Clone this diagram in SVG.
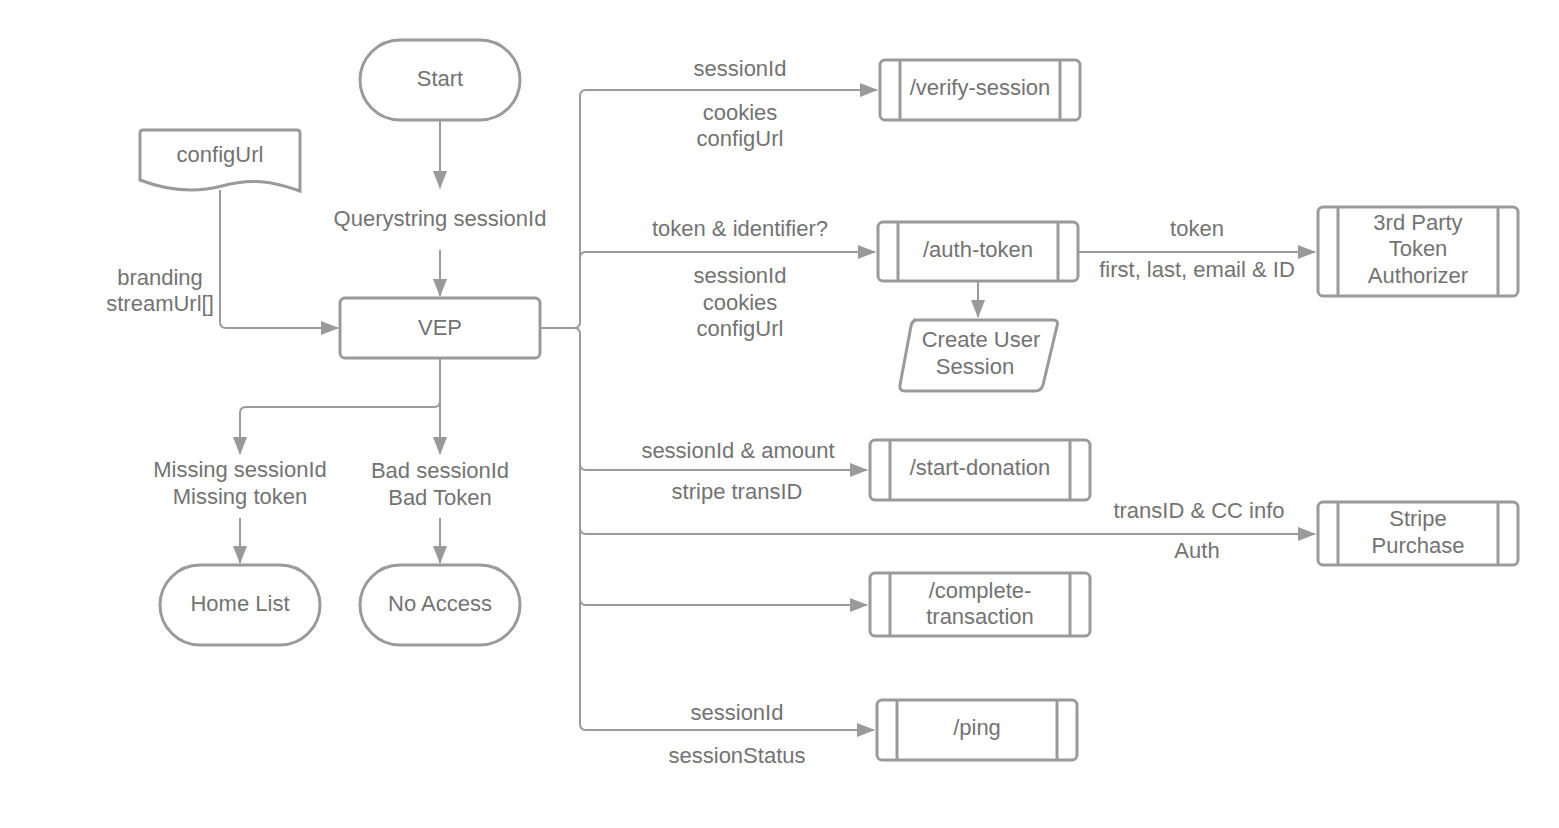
<svg xmlns="http://www.w3.org/2000/svg" width="1559" height="828" viewBox="0 0 1559 828">
<defs>
<style>
.s{fill:#fff;stroke:#9a9a9a;stroke-width:3}
.il{stroke:#9a9a9a;stroke-width:3;fill:none}
.c{fill:none;stroke:#9a9a9a;stroke-width:2}
text{font-family:"Liberation Sans",Arial,sans-serif;font-size:22px;fill:#737373;text-anchor:middle;dominant-baseline:central}
</style>
<marker id="a" markerUnits="userSpaceOnUse" markerWidth="18" markerHeight="14" refX="17" refY="7" orient="auto">
<path d="M0,0 L18,7 L0,14 z" fill="#9a9a9a"/>
</marker>
</defs>
<rect width="1559" height="828" fill="#fff"/>
<g id="connectors">
<path class="c" d="M440,121 V188" marker-end="url(#a)"/>
<path class="c" d="M440,250 V296" marker-end="url(#a)"/>
<path class="c" d="M220,190 V322 Q220,328 226,328 H338" marker-end="url(#a)"/>
<path class="c" d="M541,328 H574 Q580,328 580,322 V96 Q580,90 586,90 H877" marker-end="url(#a)"/>
<path class="c" d="M580,258 Q580,252 586,252 H875" marker-end="url(#a)"/>
<path class="c" d="M574,328 Q580,328 580,334 V724 Q580,730 586,730 H874" marker-end="url(#a)"/>
<path class="c" d="M580,464 Q580,470 586,470 H867" marker-end="url(#a)"/>
<path class="c" d="M580,528 Q580,534 586,534 H1315" marker-end="url(#a)"/>
<path class="c" d="M580,599 Q580,605 586,605 H867" marker-end="url(#a)"/>
<path class="c" d="M1079,252 H1315" marker-end="url(#a)"/>
<path class="c" d="M978,282 V317" marker-end="url(#a)"/>
<path class="c" d="M440,359 V454" marker-end="url(#a)"/>
<path class="c" d="M440,401 Q440,407 434,407 H246 Q240,407 240,413 V454" marker-end="url(#a)"/>
<path class="c" d="M240,518 V563" marker-end="url(#a)"/>
<path class="c" d="M440,518 V563" marker-end="url(#a)"/>
<text x="440" y="218">Querystring sessionId</text>
<text x="160" y="277">branding</text>
<text x="160" y="303">streamUrl[]</text>
<text x="740" y="68">sessionId</text>
<text x="740" y="112">cookies</text>
<text x="740" y="138">configUrl</text>
<text x="740" y="228">token &amp; identifier?</text>
<text x="740" y="275">sessionId</text>
<text x="740" y="302">cookies</text>
<text x="740" y="328">configUrl</text>
<text x="1197" y="228">token</text>
<text x="1197" y="269">first, last, email &amp; ID</text>
<text x="738" y="450">sessionId &amp; amount</text>
<text x="737" y="491">stripe transID</text>
<text x="1199" y="510">transID &amp; CC info</text>
<text x="1197" y="550">Auth</text>
<text x="737" y="712">sessionId</text>
<text x="737" y="755">sessionStatus</text>
<text x="240" y="469">Missing sessionId</text>
<text x="240" y="496">Missing token</text>
<text x="440" y="470">Bad sessionId</text>
<text x="440" y="497">Bad Token</text>
</g>
<g id="start">
<rect class="s" x="360" y="40" width="160" height="80" rx="40"/>
<text x="440" y="78">Start</text>
</g>
<g id="configUrl">
<path class="s" d="M143,130 H297 Q300,130 300,133 V191 C272,181 250,178 222,186 C192,194 166,190 140,180 V133 Q140,130 143,130 Z"/>
<text x="220" y="154">configUrl</text>
</g>
<g id="vep">
<rect class="s" x="340" y="298" width="200" height="60" rx="5"/>
<text x="440" y="327">VEP</text>
</g>
<g id="homeList">
<rect class="s" x="160" y="565" width="160" height="80" rx="40"/>
<text x="240" y="603">Home List</text>
</g>
<g id="noAccess">
<rect class="s" x="360" y="565" width="160" height="80" rx="40"/>
<text x="440" y="603">No Access</text>
</g>
<g id="verifySession">
<rect class="s" x="880" y="60" width="200" height="60" rx="5"/>
<path class="il" d="M900,60 V120 M1060,60 V120"/>
<text x="980" y="87">/verify-session</text>
</g>
<g id="authToken">
<rect class="s" x="878" y="222" width="200" height="59" rx="5"/>
<path class="il" d="M898,222 V281 M1058,222 V281"/>
<text x="978" y="249">/auth-token</text>
</g>
<g id="createUserSession">
<path class="s" d="M913,320 H1053 Q1059,320 1057,326 L1043,385 Q1041,391 1035,391 H905 Q899,391 900,385 L911,326 Q912,320 918,320 Z"/>
<text x="981" y="339">Create User</text>
<text x="975" y="366">Session</text>
</g>
<g id="thirdParty">
<rect class="s" x="1318" y="207" width="200" height="89" rx="5"/>
<path class="il" d="M1338,207 V296 M1498,207 V296"/>
<text x="1418" y="222">3rd Party</text>
<text x="1418" y="248">Token</text>
<text x="1418" y="275">Authorizer</text>
</g>
<g id="startDonation">
<rect class="s" x="870" y="440" width="220" height="60" rx="5"/>
<path class="il" d="M890,440 V500 M1070,440 V500"/>
<text x="980" y="467">/start-donation</text>
</g>
<g id="stripePurchase">
<rect class="s" x="1318" y="502" width="200" height="63" rx="5"/>
<path class="il" d="M1338,502 V565 M1498,502 V565"/>
<text x="1418" y="518">Stripe</text>
<text x="1418" y="545">Purchase</text>
</g>
<g id="completeTransaction">
<rect class="s" x="870" y="573" width="220" height="63" rx="5"/>
<path class="il" d="M890,573 V636 M1070,573 V636"/>
<text x="980" y="590">/complete-</text>
<text x="980" y="616">transaction</text>
</g>
<g id="ping">
<rect class="s" x="877" y="700" width="200" height="60" rx="5"/>
<path class="il" d="M897,700 V760 M1057,700 V760"/>
<text x="977" y="727">/ping</text>
</g>
</svg>
